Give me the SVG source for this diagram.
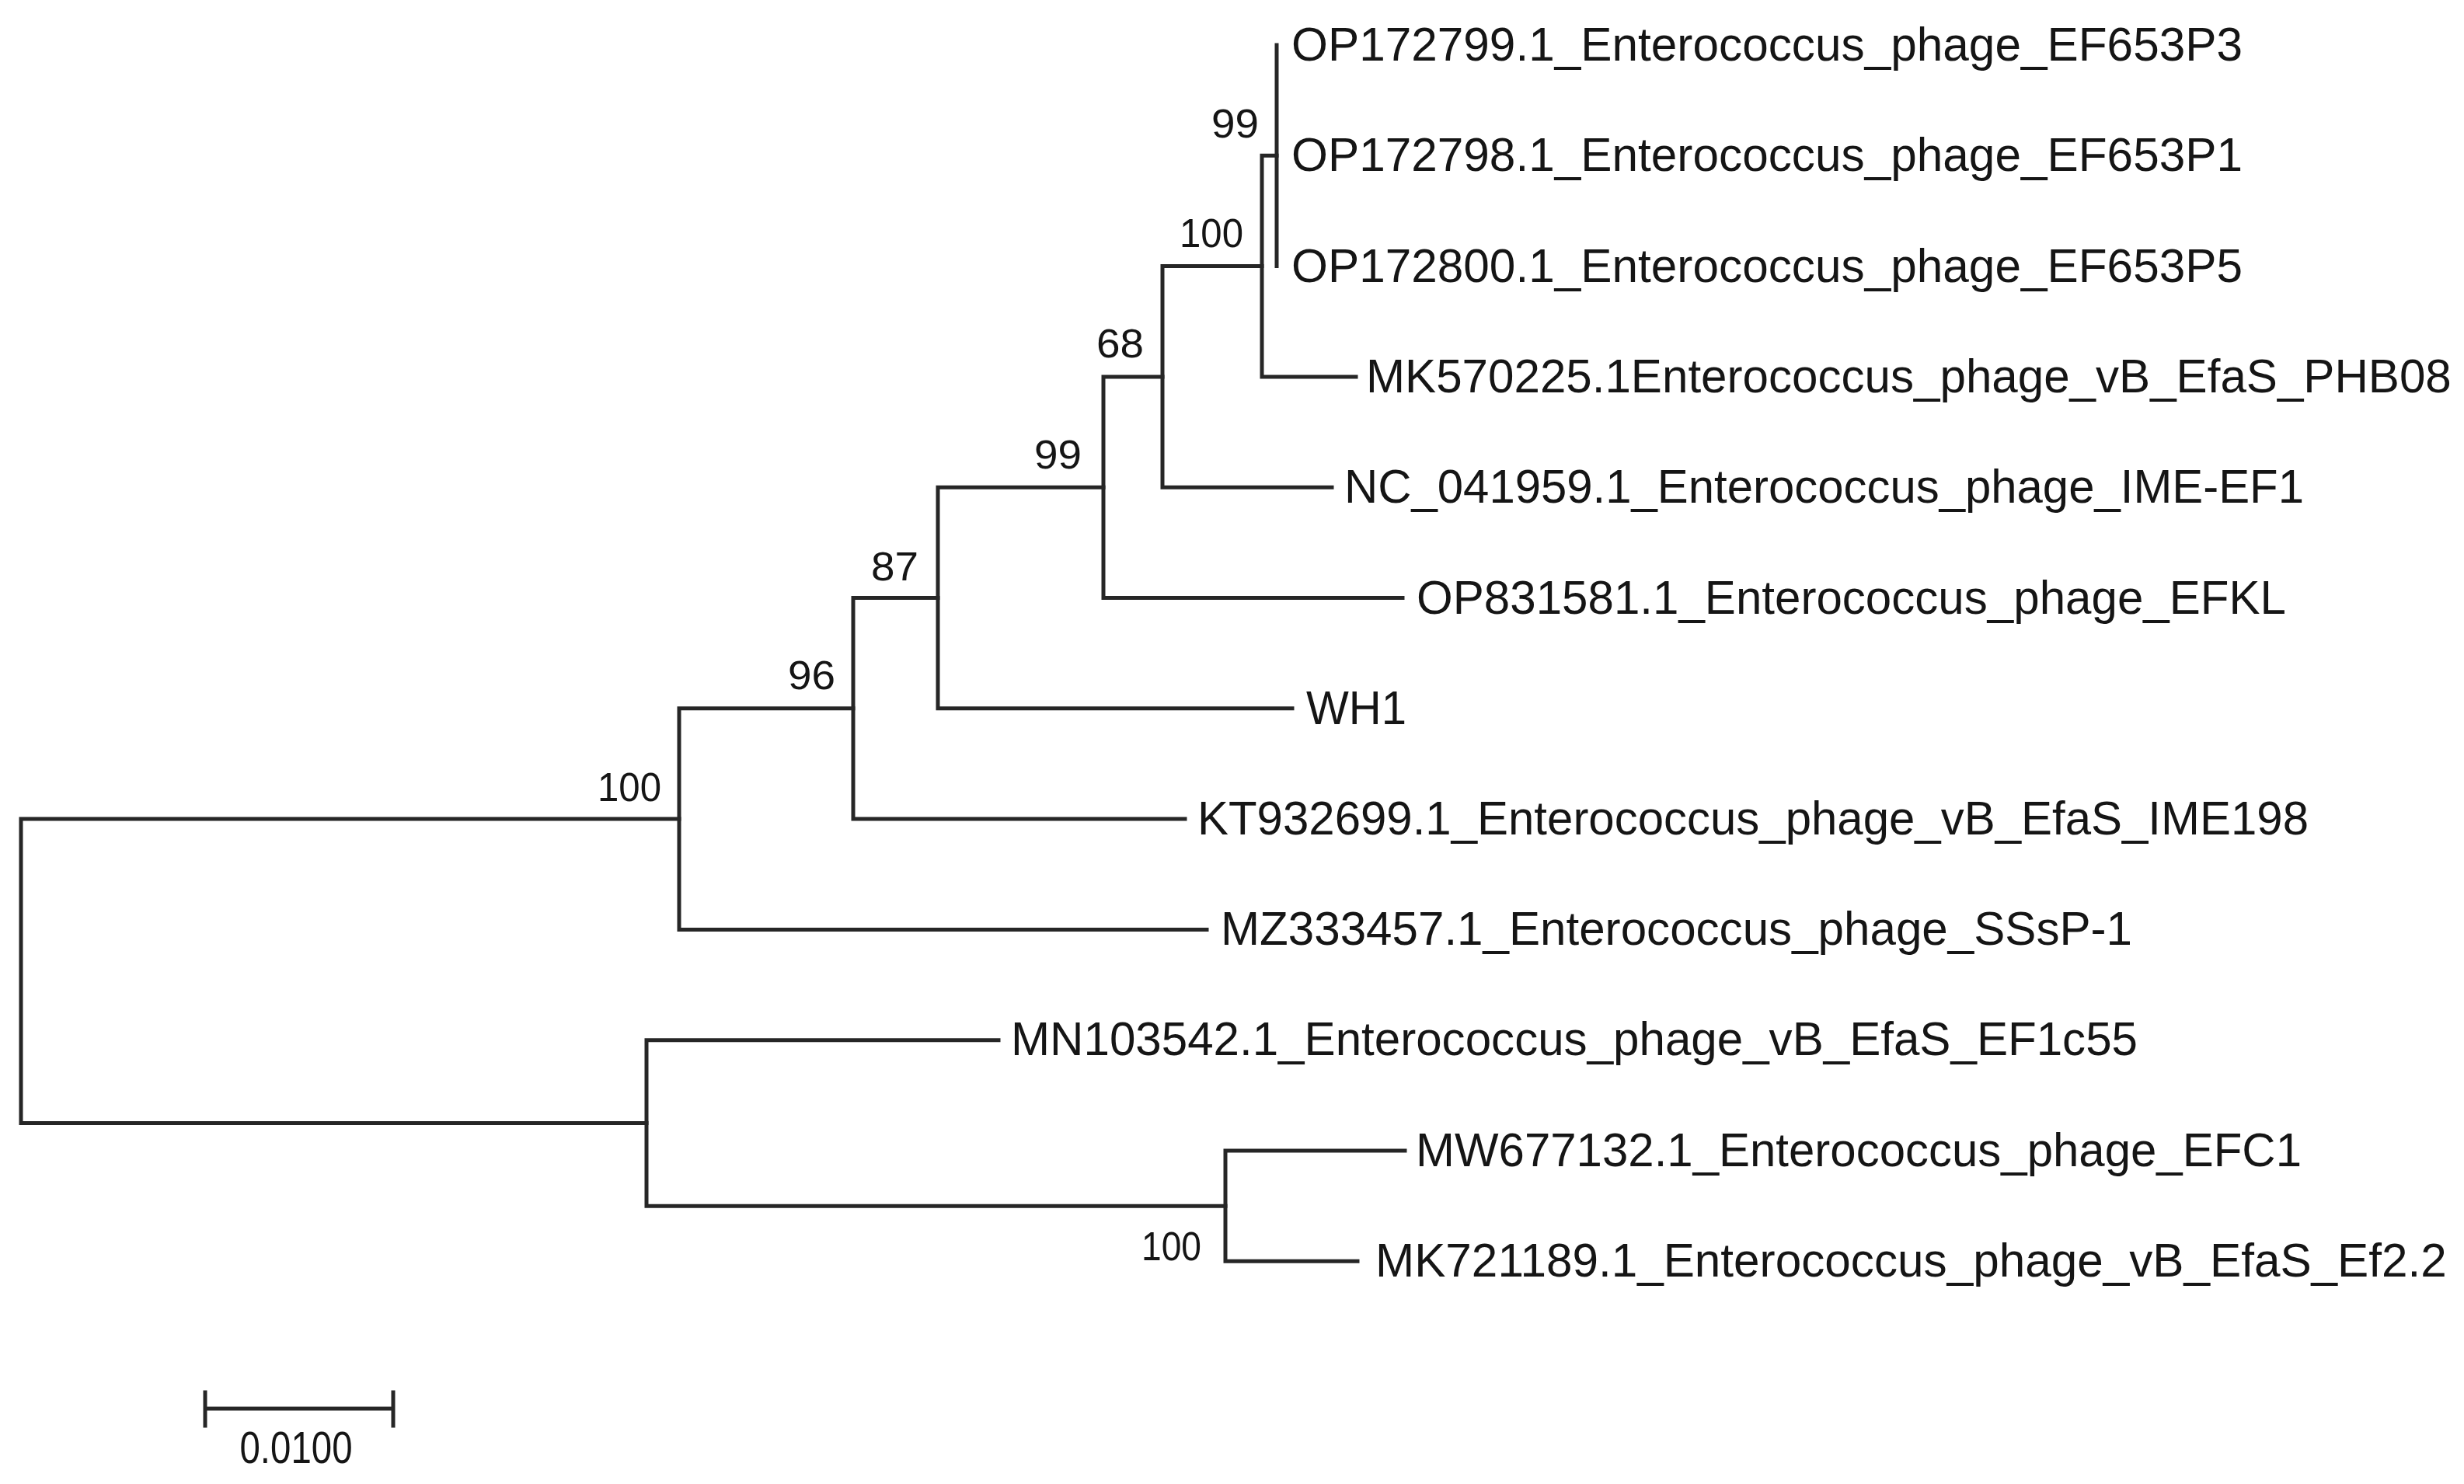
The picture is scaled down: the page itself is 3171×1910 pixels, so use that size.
<svg xmlns="http://www.w3.org/2000/svg" width="3171" height="1910" viewBox="0 0 3171 1910">
<style>
.br{fill:none;stroke:#262626;stroke-width:5;stroke-linecap:square}
.tip{font-family:"Liberation Sans",Arial,sans-serif;font-size:62px;fill:#151515}
.bs{font-family:"Liberation Sans",Arial,sans-serif;font-size:52px;fill:#151515;text-anchor:end}
.sc{font-family:"Liberation Sans",Arial,sans-serif;font-size:58px;fill:#151515;text-anchor:middle}
</style>
<rect width="3171" height="1910" fill="#ffffff"/>
<g id="connectors">
<path class="br" d="M1643,58 V342.6"/>
<path class="br" d="M1624,200.3 V484.9 M1624,200.3 H1643 M1624,484.9 H1745"/>
<path class="br" d="M1496,342.6 V627.2 M1496,342.6 H1624 M1496,627.2 H1714"/>
<path class="br" d="M1420,484.9 V769.5 M1420,484.9 H1496 M1420,769.5 H1805"/>
<path class="br" d="M1207,627.2 V911.8 M1207,627.2 H1420 M1207,911.8 H1663"/>
<path class="br" d="M1098,769.5 V1054.1 M1098,769.5 H1207 M1098,1054.1 H1525"/>
<path class="br" d="M874,911.8 V1196.4 M874,911.8 H1098 M874,1196.4 H1553"/>
<path class="br" d="M27,1054.1 V1445.4 M27,1054.1 H874 M27,1445.4 H832"/>
<path class="br" d="M832,1338.7 V1552.2 M832,1338.7 H1285 M832,1552.2 H1577"/>
<path class="br" d="M1577,1481 V1623.3 M1577,1481 H1808 M1577,1623.3 H1747"/>
</g>
<g id="tips">
<g id="tip-OP172799"><text class="tip" x="1662" y="78" textLength="1224" lengthAdjust="spacingAndGlyphs">OP172799.1_Enterococcus_phage_EF653P3</text></g>
<g id="tip-OP172798"><text class="tip" x="1662" y="220" textLength="1224" lengthAdjust="spacingAndGlyphs">OP172798.1_Enterococcus_phage_EF653P1</text></g>
<g id="tip-OP172800"><text class="tip" x="1662" y="363" textLength="1224" lengthAdjust="spacingAndGlyphs">OP172800.1_Enterococcus_phage_EF653P5</text></g>
<g id="tip-MK570225"><text class="tip" transform="translate(1758,505) scale(0.9,1)" x="0" y="0" textLength="1552" lengthAdjust="spacingAndGlyphs">MK570225.1Enterococcus_phage_vB_EfaS_PHB08</text></g>
<g id="tip-NC041959"><text class="tip" x="1730" y="647" textLength="1235" lengthAdjust="spacingAndGlyphs">NC_041959.1_Enterococcus_phage_IME-EF1</text></g>
<g id="tip-OP831581"><text class="tip" x="1823" y="790" textLength="1119" lengthAdjust="spacingAndGlyphs">OP831581.1_Enterococcus_phage_EFKL</text></g>
<g id="tip-WH1"><text class="tip" x="1681" y="932" textLength="129" lengthAdjust="spacingAndGlyphs">WH1</text></g>
<g id="tip-KT932699"><text class="tip" x="1541" y="1074" textLength="1430" lengthAdjust="spacingAndGlyphs">KT932699.1_Enterococcus_phage_vB_EfaS_IME198</text></g>
<g id="tip-MZ333457"><text class="tip" x="1571" y="1216" textLength="1173" lengthAdjust="spacingAndGlyphs">MZ333457.1_Enterococcus_phage_SSsP-1</text></g>
<g id="tip-MN103542"><text class="tip" x="1301" y="1358" textLength="1450" lengthAdjust="spacingAndGlyphs">MN103542.1_Enterococcus_phage_vB_EfaS_EF1c55</text></g>
<g id="tip-MW677132"><text class="tip" x="1822" y="1501" textLength="1140" lengthAdjust="spacingAndGlyphs">MW677132.1_Enterococcus_phage_EFC1</text></g>
<g id="tip-MK721189"><text class="tip" transform="translate(1770,1643) scale(0.9,1)" x="0" y="0" textLength="1532" lengthAdjust="spacingAndGlyphs">MK721189.1_Enterococcus_phage_vB_EfaS_Ef2.2</text></g>
</g>
<g id="bootstrap">
<g id="bs-1"><text class="bs" x="1620" y="177" textLength="61" lengthAdjust="spacingAndGlyphs">99</text></g>
<g id="bs-2"><text class="bs" x="1600" y="318" textLength="82" lengthAdjust="spacingAndGlyphs">100</text></g>
<g id="bs-3"><text class="bs" x="1472" y="460" textLength="61" lengthAdjust="spacingAndGlyphs">68</text></g>
<g id="bs-4"><text class="bs" x="1392" y="603" textLength="61" lengthAdjust="spacingAndGlyphs">99</text></g>
<g id="bs-5"><text class="bs" x="1182" y="747" textLength="61" lengthAdjust="spacingAndGlyphs">87</text></g>
<g id="bs-6"><text class="bs" x="1075" y="887" textLength="61" lengthAdjust="spacingAndGlyphs">96</text></g>
<g id="bs-7"><text class="bs" x="851" y="1031" textLength="82" lengthAdjust="spacingAndGlyphs">100</text></g>
<g id="bs-8"><text class="bs" x="1546" y="1622" textLength="77" lengthAdjust="spacingAndGlyphs">100</text></g>
</g>
<g id="scalebar">
<path class="br" d="M264,1813 H506 M264,1792 V1835 M506,1792 V1835"/>
<text class="sc" x="381" y="1883" textLength="145" lengthAdjust="spacingAndGlyphs">0.0100</text>
</g>
</svg>
